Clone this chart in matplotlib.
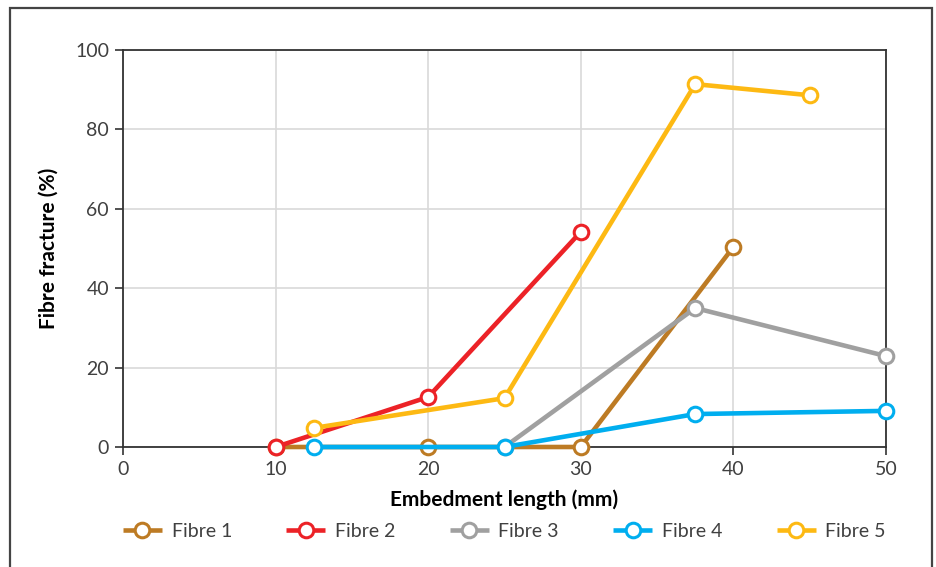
import matplotlib
matplotlib.use("Agg")
import matplotlib.pyplot as plt
from matplotlib.patches import Rectangle

plt.rcParams['font.family'] = ['Lato', 'DejaVu Sans']

fibre1_x = [10, 20, 30, 40]
fibre1_y = [0, 0, 0, 50.4]
fibre2_x = [10, 20, 30]
fibre2_y = [0, 12.6, 54.2]
fibre3_x = [25, 37.5, 50]
fibre3_y = [0, 35.0, 22.9]
fibre4_x = [12.5, 25, 37.5, 50]
fibre4_y = [0, 0, 8.3, 9.1]
fibre5_x = [12.5, 25, 37.5, 45]
fibre5_y = [4.8, 12.3, 91.4, 88.6]

series = [
    ("Fibre 1", fibre1_x, fibre1_y, "#BD7B24"),
    ("Fibre 2", fibre2_x, fibre2_y, "#EC2227"),
    ("Fibre 3", fibre3_x, fibre3_y, "#A0A0A0"),
    ("Fibre 4", fibre4_x, fibre4_y, "#00AEEF"),
    ("Fibre 5", fibre5_x, fibre5_y, "#FDB913"),
]
x_ticks = [0, 10, 20, 30, 40, 50]
y_ticks = [0, 20, 40, 60, 80, 100]

fig = plt.figure(figsize=(9.36, 5.67), dpi=100)
ax = fig.add_axes([123/936, 1-447/567, (886-123)/936, (447-50)/567])

for name, xs, ys, c in series:
    ax.plot(xs, ys, color=c, lw=3.3, marker='o', ms=10.5, mfc='white', mec=c, mew=2.2,
            label=name, solid_capstyle='butt', clip_on=False, zorder=3)

ax.set_xlim(0, 50)
ax.set_ylim(0, 100)
ax.set_xticks(x_ticks)
ax.set_yticks(y_ticks)
ax.grid(True, color='#D9D9D9', lw=1.2, zorder=0)
ax.set_axisbelow(True)
for s in ax.spines.values():
    s.set_color('#333333')
    s.set_linewidth(1.3)
ax.tick_params(axis='both', direction='out', length=6, width=1.2, color='#333333',
               labelsize=14, labelcolor='#404040', pad=4)
ax.set_xlabel("Embedment length (mm)", fontsize=15, fontweight='bold', labelpad=8)
ax.set_ylabel("Fibre fracture (%)", fontsize=15, fontweight='bold', labelpad=12)

leg = ax.legend(loc='center', bbox_to_anchor=(0.5, -0.213), ncol=5, frameon=False,
                fontsize=14, handlelength=2.0, columnspacing=2.8, handletextpad=0.5)
for t in leg.get_texts():
    t.set_color('#404040')

fig.patches.append(Rectangle((10/936, -0.05), (932-10)/936, 1.05 - 8/567,
                             transform=fig.transFigure, fill=False, ec='#444444', lw=1.6))

fig.savefig("out.png", dpi=100)
